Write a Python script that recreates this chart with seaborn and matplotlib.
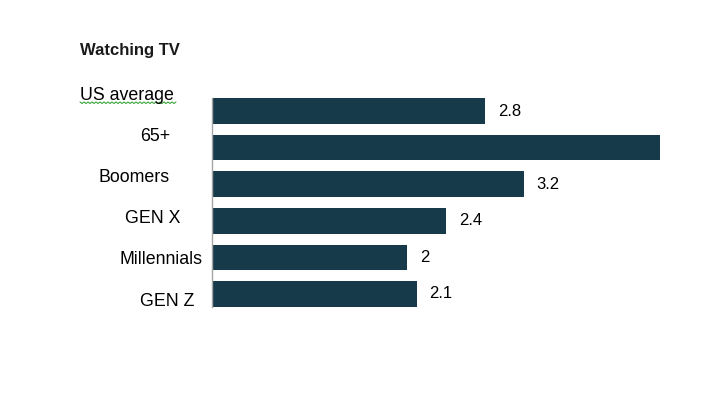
import numpy as np
import pandas as pd
import matplotlib
matplotlib.use("Agg")
import matplotlib.pyplot as plt
from matplotlib.lines import Line2D
import seaborn as sns

categories = ["US average", "65+", "Boomers", "GEN X", "Millennials", "GEN Z"]
values = [2.8, 4.6, 3.2, 2.4, 2.0, 2.1]
value_labels = ["2.8", "", "3.2", "2.4", "2", "2.1"]
title = "Watching TV"

sns.set_theme(style="white")
plt.rcParams["font.family"] = ["Liberation Sans", "DejaVu Sans"]

W, H = 718, 397
fig = plt.figure(figsize=(W / 100, H / 100), dpi=100)

# axes placement in pixels
px_per_unit = 97.4
left_px, top_px, bottom_px = 212, 98.2, 306.8
xmax = 5.0
ax = fig.add_axes([left_px / W, 1 - bottom_px / H,
                   xmax * px_per_unit / W, (bottom_px - top_px) / H])

df = pd.DataFrame({"cat": categories, "val": values})
sns.barplot(data=df, x="val", y="cat", color="#163a4a", width=0.7,
            saturation=1, ax=ax, orient="h", linewidth=0)
ax.set_xlim(0, xmax)
ax.set_ylim(len(categories) - 1 + 0.35, -0.35)
ax.set_xlabel("")
ax.set_ylabel("")
ax.set_xticks([])
ax.set_yticks([])
for s in ["top", "right", "bottom"]:
    ax.spines[s].set_visible(False)
ax.spines["left"].set_color("#a6a6a6")
ax.spines["left"].set_linewidth(1.0)
ax.patch.set_alpha(0)

for i, (v, lab) in enumerate(zip(values, value_labels)):
    if lab:
        ax.annotate(lab, xy=(v, i), xytext=(13, 0), textcoords="offset pixels",
                    ha="left", va="center", fontsize=12, color="#000000")

# category labels (manually placed text boxes)
label_pos = [
    (80, 95, "left"),
    (155, 137, "center"),
    (134, 177, "center"),
    (153, 219, "center"),
    (161, 260, "center"),
    (167, 302, "center"),
]
for cat, (x, y, ha) in zip(categories, label_pos):
    fig.text(x / W, 1 - y / H, cat, ha=ha, va="center", fontsize=12.8,
             color="#000000")

fig.text(80 / W, 1 - 51 / H, title, ha="left", va="center", fontsize=12,
         fontweight="bold", color="#1a1a1a")

# spell-check squiggle under "US average"
xs = np.arange(80, 177, 2.0)
ys = 102 + np.where(np.arange(len(xs)) % 2 == 0, 0.0, 1.5)
fig.add_artist(Line2D(xs / W, 1 - ys / H, transform=fig.transFigure,
                      color="#3ca53c", linewidth=0.8))

fig.savefig("out.png", dpi=100)
